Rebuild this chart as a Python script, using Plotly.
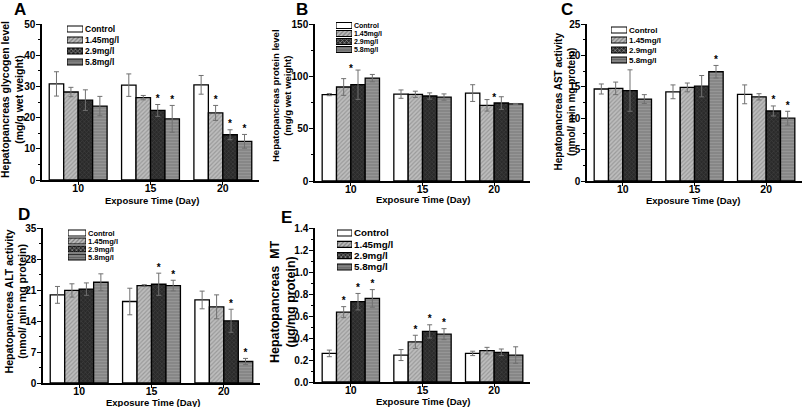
import plotly.graph_objects as go

# ---------------- data ----------------
days = ["10", "15", "20"]
groups = ["Control", "1.45mg/l", "2.9mg/l", "5.8mg/l"]

# rows = groups, columns = days
glycogen_mean = [[30.8, 30.4, 30.5], [28.2, 26.4, 21.5], [25.6, 22.3, 14.5], [23.7, 19.6, 12.4]]
glycogen_err = [[3.9, 3.6, 3.0], [1.5, 0.7, 2.4], [3.3, 1.9, 1.6], [3.1, 4.3, 2.2]]
glycogen_sig = [[0, 0, 0], [0, 0, 1], [0, 1, 1], [0, 1, 1]]

protein_mean = [[82.5, 83.0, 84.0], [89.8, 82.8, 72.3], [92.0, 81.2, 74.5], [98.3, 80.2, 73.6]]
protein_err = [[1.0, 4.0, 8.0], [8.0, 3.0, 5.5], [14.0, 3.0, 6.0], [3.5, 3.0, 0.5]]
protein_sig = [[0, 0, 0], [0, 0, 0], [0, 0, 0], [1, 0, 1]]

ast_mean = [[14.65, 14.2, 13.8], [14.75, 14.9, 13.4], [14.4, 15.1, 11.15], [13.05, 17.4, 10.0]]
ast_err = [[0.8, 1.1, 1.5], [1.0, 0.7, 0.5], [3.3, 1.7, 0.8], [0.7, 1.0, 1.1]]
ast_sig = [[0, 0, 0], [0, 0, 0], [0, 0, 1], [0, 1, 1]]

alt_mean = [[19.9, 18.4, 18.75], [20.9, 22.0, 17.2], [21.2, 22.3, 14.05], [22.75, 22.0, 4.85]]
alt_err = [[1.9, 3.0, 2.0], [1.5, 0.2, 2.7], [1.4, 2.5, 2.6], [1.9, 1.2, 0.7]]
alt_sig = [[0, 0, 0], [0, 0, 0], [0, 1, 1], [0, 1, 1]]

mt_mean = [[0.26, 0.245, 0.26], [0.635, 0.365, 0.285], [0.73, 0.46, 0.27], [0.76, 0.435, 0.245]]
mt_err = [[0.03, 0.05, 0.02], [0.05, 0.06, 0.03], [0.075, 0.06, 0.03], [0.08, 0.05, 0.075]]
mt_sig = [[0, 0, 0], [1, 1, 0], [1, 1, 0], [1, 1, 0]]

# ---------------- styles ----------------
W, H = 803, 407
FONT = "Liberation Sans, Arial, sans-serif"


def px(x):
    return x / W


def py(y):
    return 1 - y / H


pattern_shape = ["", "/", "x", "-"]
pattern_bg = ["white", "#bdbdbd", "#2a2a2a", "#858585"]
pattern_fg = ["white", "#767676", "#555555", "#a8a8a8"]

panels = [
    dict(letter="A", mean=glycogen_mean, err=glycogen_err, sig=glycogen_sig,
         ylabel="Hepatopancreas glycogen level<br>(mg/g wet weight)",
         xd=(42, 259), yd=(24, 180), yr=(0, 50), dt=10, mdt=5, fmt="",
         lab_x=12, lab_y=100, lab_fs=10.5, let=(20, 10), xt=(152, 200),
         leg_x=(67, 83), leg_rows=(29, 62), leg_fs=8.5),
    dict(letter="B", mean=protein_mean, err=protein_err, sig=protein_sig,
         ylabel="Hepatopancreas protein level<br>(mg/g wet weight)",
         xd=(315, 530), yd=(24, 181), yr=(0, 150), dt=50, mdt=25, fmt="",
         lab_x=282, lab_y=96, lab_fs=9.5, let=(302, 10), xt=(423, 199),
         leg_x=(336, 352), leg_rows=(25.5, 49.5), leg_fs=7),
    dict(letter="C", mean=ast_mean, err=ast_err, sig=ast_sig,
         ylabel="Hepatopancreas AST activity<br>(nmol/ min mg protein)",
         xd=(587, 802), yd=(24, 181), yr=(0, 25), dt=5, mdt=2.5, fmt="",
         lab_x=564.5, lab_y=102, lab_fs=10, let=(567, 10), xt=(693, 200),
         leg_x=(611, 627), leg_rows=(30, 60), leg_fs=8),
    dict(letter="D", mean=alt_mean, err=alt_err, sig=alt_sig,
         ylabel="Hepatopancreas ALT activity<br>(nmol/ min mg protein)",
         xd=(43, 260), yd=(228, 383), yr=(0, 35), dt=7, mdt=3.5, fmt="",
         lab_x=15.5, lab_y=302, lab_fs=10.6, let=(24, 214), xt=(153, 402),
         leg_x=(68, 86), leg_rows=(233, 257), leg_fs=7.5),
    dict(letter="E", mean=mt_mean, err=mt_err, sig=mt_sig,
         ylabel="Hepatopancreas\u00a0 MT<br>(\u00b5g/mg protein)",
         xd=(315, 530), yd=(228, 382), yr=(0, 1.4), dt=0.2, mdt=0.1, fmt=".1f",
         lab_x=283, lab_y=302, lab_fs=12.5, let=(286, 217), xt=(423, 401),
         leg_x=(337, 352), leg_rows=(233, 267), leg_fs=9.8),
]


def pattern(shape, bg, fg):
    return dict(shape=shape, fgcolor=fg, bgcolor=bg, size=3, solidity=0.4,
                fillmode="overlay")


fig = go.Figure()
layout = dict(
    width=W, height=H, margin=dict(l=0, r=0, t=0, b=0),
    paper_bgcolor="white", plot_bgcolor="white",
    barmode="group", bargap=0.2, bargroupgap=0,
    scattermode="group", scattergap=0.2,
    showlegend=False, font=dict(family=FONT, color="black"),
)
annotations = []

n = len(panels)
for i, p in enumerate(panels):
    k = i + 1
    xa = "x" if k == 1 else f"x{k}"
    ya = "y" if k == 1 else f"y{k}"
    # main bars
    for g, name in enumerate(groups):
        fig.add_trace(go.Bar(
            x=days, y=p["mean"][g], name=name, xaxis=xa, yaxis=ya,
            marker=dict(color=pattern_bg[g],
                        pattern=pattern(pattern_shape[g], pattern_bg[g], pattern_fg[g]),
                        line=dict(color="black", width=1.3)),
            error_y=dict(type="data", array=p["err"][g], color="#707070",
                         thickness=1, width=2.5),
        ))
    # significance marks
    for g, name in enumerate(groups):
        ys = [m + e if s else None for m, e, s in zip(p["mean"][g], p["err"][g], p["sig"][g])]
        txt = ["*" if s else "" for s in p["sig"][g]]
        fig.add_trace(go.Scatter(
            x=days, y=ys, text=txt, mode="text", textposition="top center",
            textfont=dict(size=10, color="black", family=FONT, weight="bold"),
            xaxis=xa, yaxis=ya, hoverinfo="skip",
        ))
    layout[f"xaxis{k if k > 1 else ''}"] = dict(
        domain=[px(p["xd"][0]), px(p["xd"][1])], anchor=ya, type="category",
        range=[-0.5, 2.5], showline=True, linecolor="black", linewidth=1.5,
        ticks="outside", ticklen=3, tickwidth=1.2, tickcolor="black",
        ticklabelstandoff=-5,
        showgrid=False, zeroline=False, automargin=False,
        tickfont=dict(size=10.5, family=FONT, weight="bold"),
    )
    layout[f"yaxis{k if k > 1 else ''}"] = dict(
        domain=[py(p["yd"][1]), py(p["yd"][0])], anchor=xa,
        range=list(p["yr"]), dtick=p["dt"], tick0=0, tickformat=p["fmt"],
        showline=True, linecolor="black", linewidth=1.5,
        ticks="outside", ticklen=4, tickwidth=1.2, tickcolor="black",
        ticklabelstandoff=-1,
        minor=dict(dtick=p["mdt"], ticks="outside", ticklen=2, tickcolor="black", tickwidth=1),
        showgrid=False, zeroline=False, automargin=False,
        tickfont=dict(size=10, family=FONT, weight="bold"),
    )
    # legend drawn as a small auxiliary horizontal-bar axis
    lk = n + k
    lx, ly = f"x{lk}", f"y{lk}"
    r0, r1 = p["leg_rows"]
    step = (r1 - r0) / 3
    fig.add_trace(go.Bar(
        y=groups, x=[1] * len(groups), orientation="h", xaxis=lx, yaxis=ly,
        width=min(0.8, 6.0 / step),
        marker=dict(color=pattern_bg,
                    pattern=dict(shape=pattern_shape, fgcolor=pattern_fg, bgcolor=pattern_bg,
                                 size=3, solidity=0.4, fillmode="overlay"),
                    line=dict(color="black", width=1.1)),
        hoverinfo="skip",
    ))
    layout[f"xaxis{lk}"] = dict(domain=[px(p["leg_x"][0]), px(p["leg_x"][1])], anchor=ly,
                               range=[0, 1], visible=False, fixedrange=True, automargin=False)
    layout[f"yaxis{lk}"] = dict(
        domain=[py(r1 + step / 2), py(r0 - step / 2)], anchor=lx, type="category",
        categoryorder="array", categoryarray=groups[::-1], range=[-0.5, 3.5],
        tickmode="array", tickvals=groups, ticktext=groups,
        side="right", showline=False, ticks="", showgrid=False, zeroline=False,
        ticklabelstandoff=1, automargin=False,
        tickfont=dict(size=p["leg_fs"], family=FONT, weight="bold"),
    )
    # panel letter
    annotations.append(dict(text=p["letter"], x=px(p["let"][0]), y=py(p["let"][1]),
                            xref="paper", yref="paper", showarrow=False,
                            xanchor="center", yanchor="middle",
                            font=dict(size=17, family=FONT, weight="bold")))
    # y title
    annotations.append(dict(text=p["ylabel"], x=px(p["lab_x"]), y=py(p["lab_y"]),
                            xref="paper", yref="paper", showarrow=False, textangle=-90,
                            xanchor="center", yanchor="middle",
                            font=dict(size=p["lab_fs"], family=FONT, weight="bold")))
    # x title
    annotations.append(dict(text="Exposure Time (Day)", x=px(p["xt"][0]), y=py(p["xt"][1]),
                            xref="paper", yref="paper", showarrow=False,
                            xanchor="center", yanchor="middle",
                            font=dict(size=9.5, family=FONT, weight="bold")))

layout["annotations"] = annotations
fig.update_layout(**layout)
fig.write_html("out.html", config={"displayModeBar": False},
               post_script="document.body.style.margin='0px';document.body.style.overflow='hidden';")
